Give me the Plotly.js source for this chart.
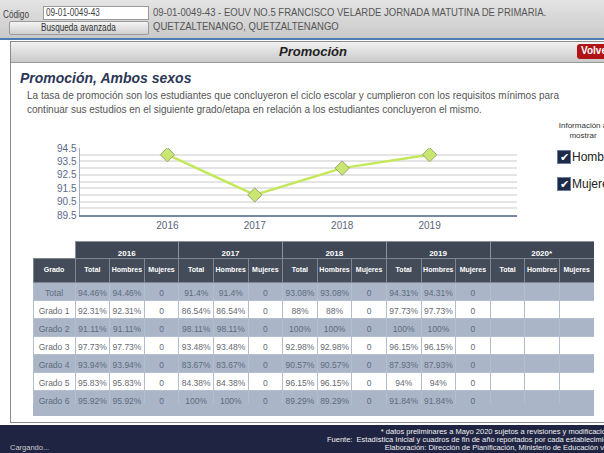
<!DOCTYPE html>
<html><head><meta charset="utf-8">
<script src="https://cdn.plot.ly/plotly-3.0.1.min.js"></script>
<style>
html,body{margin:0;padding:0;}
body{width:604px;height:453px;overflow:hidden;position:relative;background:#fff;font-family:"Liberation Sans",Arial,sans-serif;}
.a{position:absolute;white-space:nowrap;}
.cond{transform-origin:0 0;transform:scaleX(0.82);}
.ft{position:absolute;left:0;width:618px;text-align:right;white-space:nowrap;font-size:7.5px;line-height:8px;height:8px;color:#f0f0f0;}
</style></head>
<body>
<script>
// ---- data ----
const chartYears = ['2016','2017','2018','2019'];
const chartValues = [94, 91, 93, 94];
const yTicks = [89.5, 90.5, 91.5, 92.5, 93.5, 94.5];

const tableYears = ['2016','2017','2018','2019','2020*'];
const subHeaders = ['Total','Hombres','Mujeres'];
const grados = ['Total','Grado 1','Grado 2','Grado 3','Grado 4','Grado 5','Grado 6'];
const total2016 = [94.46, 92.31, 91.11, 97.73, 93.94, 95.83, 95.92];
const hombres2016 = [94.46, 92.31, 91.11, 97.73, 93.94, 95.83, 95.92];
const mujeres2016 = [0,0,0,0,0,0,0];
const total2017 = [91.4, 86.54, 98.11, 93.48, 83.67, 84.38, 100];
const hombres2017 = [91.4, 86.54, 98.11, 93.48, 83.67, 84.38, 100];
const mujeres2017 = [0,0,0,0,0,0,0];
const total2018 = [93.08, 88, 100, 92.98, 90.57, 96.15, 89.29];
const hombres2018 = [93.08, 88, 100, 92.98, 90.57, 96.15, 89.29];
const mujeres2018 = [0,0,0,0,0,0,0];
const total2019 = [94.31, 97.73, 100, 96.15, 87.93, 94, 91.84];
const hombres2019 = [94.31, 97.73, 100, 96.15, 87.93, 94, 91.84];
const mujeres2019 = [0,0,0,0,0,0,0];
const total2020 = [null,null,null,null,null,null,null];
const hombres2020 = [null,null,null,null,null,null,null];
const mujeres2020 = [null,null,null,null,null,null,null];
</script>

<!-- top bar -->
<div class="a" style="left:0;top:0;width:604px;height:38px;background:linear-gradient(#e4e4e4,#c9c9c9);"></div>
<div class="a" style="left:0;top:38px;width:604px;height:2px;background:#4d7db3;"></div>
<div class="a cond" style="left:3px;top:9px;font-size:10px;color:#444;">Código</div>
<div class="a" style="left:43px;top:6px;width:104px;height:12px;background:#fff;border:1px solid #9a9a9a;"></div>
<div class="a cond" style="left:46px;top:7px;font-size:10px;color:#444;">09-01-0049-43</div>
<div class="a" style="left:9px;top:21px;width:138px;height:12px;background:linear-gradient(#f4f4f4,#d0d0d0);border:1px solid #9a9a9a;border-radius:2px;"></div>
<div class="a cond" style="left:41px;top:22px;font-size:10px;color:#333;">Busqueda avanzada</div>
<div class="a" style="left:153px;top:5px;font-size:11px;line-height:14px;color:#555;transform-origin:0 0;transform:scaleX(0.865);">09-01-0049-43 - EOUV NO.5 FRANCISCO VELARDE JORNADA MATUTINA DE PRIMARIA.<br>QUETZALTENANGO, QUETZALTENANGO</div>

<!-- panel -->
<div class="a" style="left:10px;top:41px;width:600px;height:380px;border:1px solid #8a8a8a;background:#fff;"></div>
<div class="a" style="left:11px;top:42px;width:600px;height:20px;background:linear-gradient(#f2f2f2,#c9c9c9);border-bottom:1px solid #9a9a9a;"></div>
<div class="a" style="left:11px;top:44px;width:604px;text-align:center;font-size:13px;font-weight:bold;font-style:italic;color:#222;">Promoción</div>
<div class="a" style="left:577px;top:44px;width:40px;height:15px;background:#b11414;border-radius:3px;"></div>
<div class="a" style="left:581px;top:45px;font-size:10px;font-weight:bold;color:#fff;">Volver</div>

<div class="a" style="left:20px;top:70px;font-size:14px;font-weight:bold;font-style:italic;color:#2c3756;">Promoción, Ambos sexos</div>
<div class="a" style="left:27px;top:89px;font-size:10px;line-height:13.5px;color:#555;">La tasa de promoción son los estudiantes que concluyeron el ciclo escolar y cumplieron con los requisitos mínimos para<br>continuar sus estudios en el siguiente grado/etapa en relación a los estudiantes concluyeron el mismo.</div>

<!-- legend-like controls -->
<div class="a" style="left:548px;top:121px;width:70px;text-align:center;font-size:8px;line-height:10px;color:#333;">Información a<br>mostrar</div>
<div class="a" style="left:557px;top:150px;width:12px;height:12px;background:#1d2a48;border:1px solid #6c7c9a;color:#fff;font-size:11px;line-height:12px;text-align:center;">✔</div>
<div class="a" style="left:572px;top:150px;font-size:12px;color:#222;">Hombres</div>
<div class="a" style="left:557px;top:177px;width:12px;height:12px;background:#1d2a48;border:1px solid #6c7c9a;color:#fff;font-size:11px;line-height:12px;text-align:center;">✔</div>
<div class="a" style="left:572px;top:177px;font-size:12px;color:#222;">Mujeres</div>

<div id="chart" class="a" style="left:0;top:130px;width:540px;height:105px;"></div>

<div class="a" style="left:33px;top:400px;width:561px;height:16px;background:#aab6c8;"></div>
<div id="yeartable" class="a" style="left:33px;top:241px;width:561px;height:18px;"></div>
<div id="table" class="a" style="left:33px;top:258px;width:561px;height:146px;"></div>

<!-- footer -->
<div class="a" style="left:0;top:425px;width:604px;height:28px;background:#1f2443;"></div>
<div class="ft" style="top:428px;">* datos preliminares a Mayo 2020 sujetos a revisiones y modificaciones</div>
<div class="ft" style="top:436px;">Fuente:&nbsp; Estadística Inicial y cuadros de fin de año reportados por cada establecimiento</div>
<div class="ft" style="top:444px;">Elaboración: Dirección de Planificación, Ministerio de Educación v. 8.0</div>
<div class="a" style="left:10px;top:444px;font-size:7.5px;line-height:8px;color:#ccc;">Cargando...</div>

<script>
// ---- line chart ----
Plotly.newPlot('chart', [{
  type:'scatter', mode:'lines+markers',
  x: chartYears, y: chartValues,
  line:{color:'#c3e85a', width:2.5},
  marker:{symbol:'diamond', size:11, color:'#c9e670', line:{color:'#9aa57a', width:1}},
  hoverinfo:'skip'
}], {
  width:540, height:105,
  margin:{l:80, r:23, t:18, b:20},
  paper_bgcolor:'rgba(0,0,0,0)', plot_bgcolor:'#fff',
  showlegend:false,
  font:{family:'Liberation Sans, Arial, sans-serif', size:10, color:'#5a6a88'},
  xaxis:{type:'category', range:[-1,4], showgrid:false, zeroline:false,
         showline:true, linecolor:'#7686a6', linewidth:1.5, ticks:'', tickfont:{size:10, color:'#5a6478'}},
  yaxis:{range:[89.5,94.5], tickvals:yTicks, ticktext:yTicks.map(v=>v.toFixed(1)),
         showgrid:true, gridcolor:'#e4e4e4', gridwidth:2,
         minor:{dtick:0.5, tick0:89.5, showgrid:true, gridcolor:'#e4e4e4', gridwidth:2},
         zeroline:false, showline:true, linecolor:'#a6afc2', linewidth:1.5, ticks:'', ticklen:0,
         tickfont:{size:10, color:'#5a6a88'}}
}, {staticPlot:true, displayModeBar:false});

// ---- table ----
const nb = s => String(s).replace(/ /g, '\u00a0');
const fmt = arr => arr.map(v => v === null ? ' ' : (v === 0 ? '0' : v + '%'));
const dataCols = [
  grados.map(nb),
  fmt(total2016), fmt(hombres2016), fmt(mujeres2016),
  fmt(total2017), fmt(hombres2017), fmt(mujeres2017),
  fmt(total2018), fmt(hombres2018), fmt(mujeres2018),
  fmt(total2019), fmt(hombres2019), fmt(mujeres2019),
  fmt(total2020), fmt(hombres2020), fmt(mujeres2020)
];
const rowFill = grados.map((g,i) => i % 2 === 0 ? '#aab6c8' : '#ffffff');
const rowFont = grados.map((g,i) => i % 2 === 0 ? '#5e6b80' : '#666a72');
const mainHeader = ['<b>Grado</b>'];
tableYears.forEach(() => subHeaders.forEach(s => mainHeader.push('<b>' + s + '</b>')));
const subW = 103.5 / 3;
const mainWidths = [42].concat(Array(15).fill(subW));
const yearWidths = [42].concat(Array(5).fill(103.5));

Plotly.newPlot('yeartable', [{
    type:'table',
    columnwidth: yearWidths,
    header:{
      values: [' '].concat(tableYears.map(y => '<b>' + y + '</b>')),
      height:17,
      fill:{color:['#ffffff'].concat(Array(5).fill('#3f4755'))},
      line:{color:['#ffffff'].concat(Array(5).fill('#8a929f')), width:1},
      font:{family:'Liberation Sans, Arial, sans-serif', size:8, color:'#fff'},
      align:'center'
    },
    cells:{values: [], height:18}
}], {
  width:561, height:18, margin:{l:0, r:0, t:0, b:0},
  paper_bgcolor:'rgba(0,0,0,0)'
}, {staticPlot:true, displayModeBar:false});

Plotly.newPlot('table', [{
    type:'table',
    columnwidth: mainWidths,
    header:{
      values: mainHeader, height:17,
      fill:{color:'#444c59'},
      line:{color:'#7e8693', width:1},
      font:{family:'Liberation Sans, Arial, sans-serif', size:7, color:'#fff'},
      align:'center'
    },
    cells:{
      values: dataCols, height:18,
      fill:{color: dataCols.map(() => rowFill)},
      line:{color:'#b3bece', width:1},
      font:{family:'Liberation Sans, Arial, sans-serif', size:8.5, color: dataCols.map(() => rowFont)},
      align:'center'
    }
}], {
  width:561, height:146, margin:{l:0, r:0, t:0, b:0},
  paper_bgcolor:'rgba(0,0,0,0)'
}, {staticPlot:true, displayModeBar:false});
</script>
</body></html>
